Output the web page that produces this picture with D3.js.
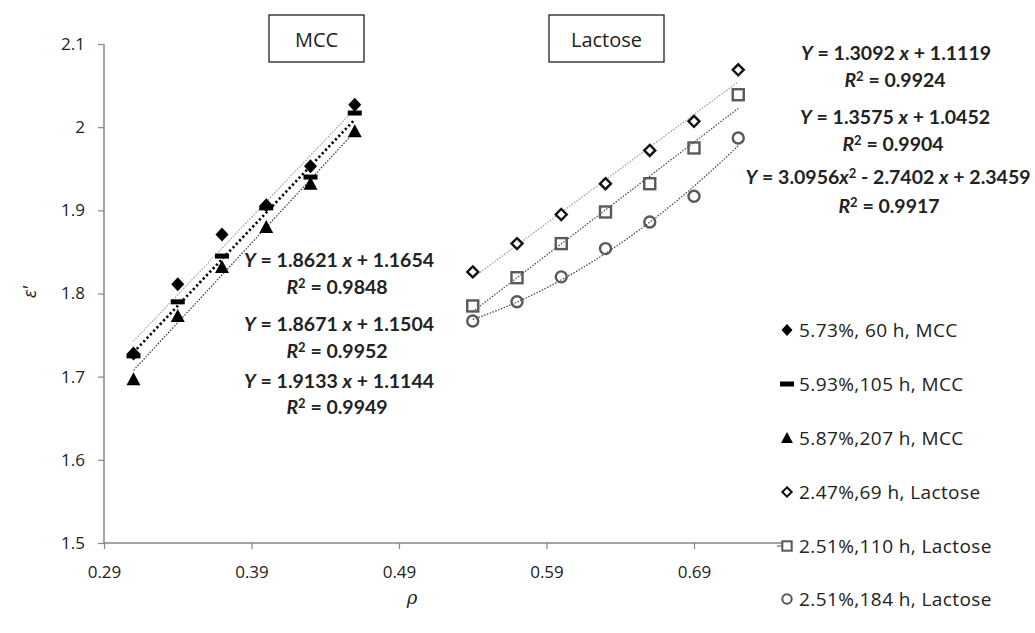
<!DOCTYPE html>
<html>
<head>
<meta charset="utf-8">
<script src="https://cdn.jsdelivr.net/npm/d3@7"></script>
<style>
  body { margin: 0; background: #fff; }
  .chart { width: 1035px; height: 633px; }
  text { font-family: "Open Sans", sans-serif; }
</style>
</head>
<body>
<div class="chart"></div>
<script>
// x values (rho)
var mccX = [0.31, 0.34, 0.37, 0.40, 0.43, 0.46];
var lacX = [0.54, 0.57, 0.60, 0.63, 0.66, 0.69, 0.72];

// epsilon' values
var mcc60 = [1.728, 1.811, 1.871, 1.906, 1.953, 2.027];
var mcc105 = [1.725, 1.790, 1.845, 1.903, 1.940, 2.017];
var mcc207 = [1.697, 1.773, 1.832, 1.880, 1.932, 1.995];
var lac69 = [1.826, 1.860, 1.895, 1.932, 1.972, 2.007, 2.069];
var lac110 = [1.785, 1.819, 1.860, 1.898, 1.932, 1.975, 2.039];
var lac184 = [1.767, 1.790, 1.820, 1.854, 1.886, 1.917, 1.987];

// trendline coefficients [a2, a1, a0]
var fit60 = [0, 1.8621, 1.1654];
var fit105 = [0, 1.8671, 1.1504];
var fit207 = [0, 1.9133, 1.1144];
var fit69 = [0, 1.3092, 1.1119];
var fit110 = [0, 1.3575, 1.0452];
var fit184 = [3.0956, -2.7402, 2.3459];

var legendLabels = ["5.73%, 60 h, MCC", "5.93%,105 h, MCC", "5.87%,207 h, MCC",
  "2.47%,69 h, Lactose", "2.51%,110 h, Lactose", "2.51%,184 h, Lactose"];

var xTicks = [0.29, 0.39, 0.49, 0.59, 0.69];
var yTicks = [1.5, 1.6, 1.7, 1.8, 1.9, 2.0, 2.1];

var width = 1035, height = 633;
var svg = d3.select(".chart").append("svg")
  .attr("width", width).attr("height", height);

var x = d3.scaleLinear().domain([0.29, 0.75]).range([104, 782.5]);
var y = d3.scaleLinear().domain([1.5, 2.1]).range([543, 44]);

// axes
var axisColor = "#868686";
var yAxis = svg.append("g").attr("transform", "translate(" + x(0.29) + ",0)")
  .call(d3.axisLeft(y).tickValues(yTicks).tickSize(6).tickPadding(13)
    .tickFormat(function(d) { return String(+d.toFixed(1)); }));
var xAxis = svg.append("g").attr("transform", "translate(0," + y(1.5) + ")")
  .call(d3.axisBottom(x).tickValues(xTicks).tickSize(6).tickPadding(17)
    .tickFormat(d3.format(".2f")));
[xAxis, yAxis].forEach(function(a) {
  a.select(".domain").attr("stroke", axisColor).attr("stroke-width", 1.5);
  a.selectAll(".tick line").attr("stroke", axisColor).attr("stroke-width", 1.2);
  a.selectAll(".tick text").attr("font-size", "17px").attr("fill", "#222")
    .style("font-family", "'Open Sans', sans-serif");
});
xAxis.select(".domain").attr("d", "M" + x(0.29) + ",0H" + x(0.75));
yAxis.select(".domain").attr("d", "M0," + y(1.5) + "V" + y(2.1));

// axis titles
svg.append("text").attr("transform", "translate(36,292) rotate(-90)")
  .attr("text-anchor", "middle").attr("font-size", "18px").attr("font-style", "italic")
  .attr("fill", "#222").text("ε'");
svg.append("text").attr("x", 412).attr("y", 604).attr("text-anchor", "middle")
  .attr("font-size", "18px").attr("font-style", "italic").attr("fill", "#222")
  .style("font-family", "'DejaVu Serif', serif").text("ρ");

// trendlines
function trend(fit, xs, color, sw, dash) {
  var pts = d3.range(0, 41).map(function(i) {
    var xv = xs[0] + (xs[xs.length - 1] - xs[0]) * i / 40;
    return [xv, fit[0] * xv * xv + fit[1] * xv + fit[2]];
  });
  svg.append("path").datum(pts)
    .attr("d", d3.line().x(function(d) { return x(d[0]); }).y(function(d) { return y(d[1]); }))
    .attr("fill", "none").attr("stroke", color).attr("stroke-width", sw)
    .attr("stroke-dasharray", dash);
}
trend(fit60, mccX, "#a6a6a6", 1.3, "1.5,1.5");
trend(fit105, mccX, "#000", 2.6, "2.2,2.6");
trend(fit207, mccX, "#333", 1.2, "1.5,1.5");
trend(fit69, lacX, "#9a9a9a", 1.2, "1.5,1.5");
trend(fit110, lacX, "#444", 1.2, "1.5,1.5");
trend(fit184, lacX, "#444", 1.2, "1.5,1.5");

// markers
var shapes = {
  diamondF: function(g) { g.append("path").attr("d", "M0,-7L6.5,0L0,7L-6.5,0Z").attr("fill", "#000"); },
  dash: function(g) { g.append("rect").attr("x", -7).attr("y", -2.5).attr("width", 14).attr("height", 5).attr("fill", "#000"); },
  tri: function(g) { g.append("path").attr("d", "M0,-7L7,6L-7,6Z").attr("fill", "#000"); },
  diamondO: function(g) { g.append("path").attr("d", "M0,-5.5L5.5,0L0,5.5L-5.5,0Z").attr("fill", "#fff").attr("stroke", "#111").attr("stroke-width", 2.4); },
  square: function(g) { g.append("rect").attr("x", -5.5).attr("y", -5.5).attr("width", 11).attr("height", 11).attr("fill", "none").attr("stroke", "#595959").attr("stroke-width", 2.4); },
  circle: function(g) { g.append("circle").attr("r", 5.5).attr("fill", "none").attr("stroke", "#595959").attr("stroke-width", 2.4); }
};

function scatter(xs, ys, shape) {
  xs.forEach(function(xv, i) {
    var g = svg.append("g").attr("transform", "translate(" + x(xv) + "," + y(ys[i]) + ")");
    shapes[shape](g);
  });
}
scatter(mccX, mcc60, "diamondF");
scatter(mccX, mcc105, "dash");
scatter(mccX, mcc207, "tri");
scatter(lacX, lac69, "diamondO");
scatter(lacX, lac110, "square");
scatter(lacX, lac184, "circle");

// boxes
function box(x0, x1, label) {
  svg.append("rect").attr("x", x0).attr("y", 15).attr("width", x1 - x0).attr("height", 47)
    .attr("fill", "#fff").attr("stroke", "#222").attr("stroke-width", 1.3);
  svg.append("text").attr("x", (x0 + x1) / 2).attr("y", 47).attr("text-anchor", "middle")
    .attr("font-size", "20px").attr("fill", "#222").text(label);
}
box(269, 364, "MCC");
box(549, 664, "Lactose");

// equations
function eqn(cx, cy, fs, parts) {
  var t = svg.append("text").attr("x", cx).attr("y", cy).attr("text-anchor", "middle")
    .attr("font-size", fs + "px").attr("font-weight", "bold").attr("fill", "#222")
    .style("font-family", "Lato, sans-serif");
  parts.forEach(function(p) {
    var s = t.append("tspan").text(p[0]);
    if (p[1] === "i") s.attr("font-style", "italic");
    if (p[1] === "sup") s.attr("font-size", Math.round(fs * 0.68) + "px").attr("dy", "-6");
    if (p[1] === "down") s.attr("dy", "6");
  });
}
function lin(cx, cy, fs, a, b) {
  eqn(cx, cy, fs, [["Y", "i"], [" = " + a.toFixed(4) + " "], ["x", "i"], [" + " + b.toFixed(4)]]);
}
function r2(cx, cy, fs, v) {
  eqn(cx, cy, fs, [["R", "i"], ["2", "sup"], [" = " + v, "down"]]);
}
var fs = 19.5;
lin(896, 60, fs, fit69[1], fit69[2]); r2(895, 87, fs, "0.9924");
lin(895, 124, fs, fit110[1], fit110[2]); r2(893, 151, fs, "0.9904");
eqn(888, 184, fs, [["Y", "i"], [" = " + fit184[0].toFixed(4)], ["x", "i"], ["2", "sup"],
  [" - " + Math.abs(fit184[1]).toFixed(4) + " ", "down"], ["x", "i"], [" + " + fit184[2].toFixed(4)]]);
r2(889, 213, fs, "0.9917");
lin(339, 267, fs, fit60[1], fit60[2]); r2(337, 294, fs, "0.9848");
lin(339, 331, fs, fit105[1], fit105[2]); r2(337, 358, fs, "0.9952");
lin(339, 388, fs, fit207[1], fit207[2]); r2(337, 414, fs, "0.9949");

// legend
var legendShapes = ["diamondF", "dash", "tri", "diamondO", "square", "circle"];
var legendY = [330, 384, 438, 492, 546, 599];
legendLabels.forEach(function(l, i) {
  var g = svg.append("g").attr("transform", "translate(787," + legendY[i] + ")");
  if (legendShapes[i] === "square") {
    g.append("line").attr("x1", -10).attr("x2", -5).attr("stroke", "#868686").attr("stroke-width", 1.5);
  }
  var gs = g.append("g").attr("transform", legendShapes[i] === "dash" ? "" : "scale(0.85)");
  shapes[legendShapes[i]](gs);
  g.append("text").attr("x", 12).attr("y", 7).attr("font-size", "19px").attr("fill", "#222")
    .attr("letter-spacing", "0.4px").text(l);
});
</script>
</body>
</html>
